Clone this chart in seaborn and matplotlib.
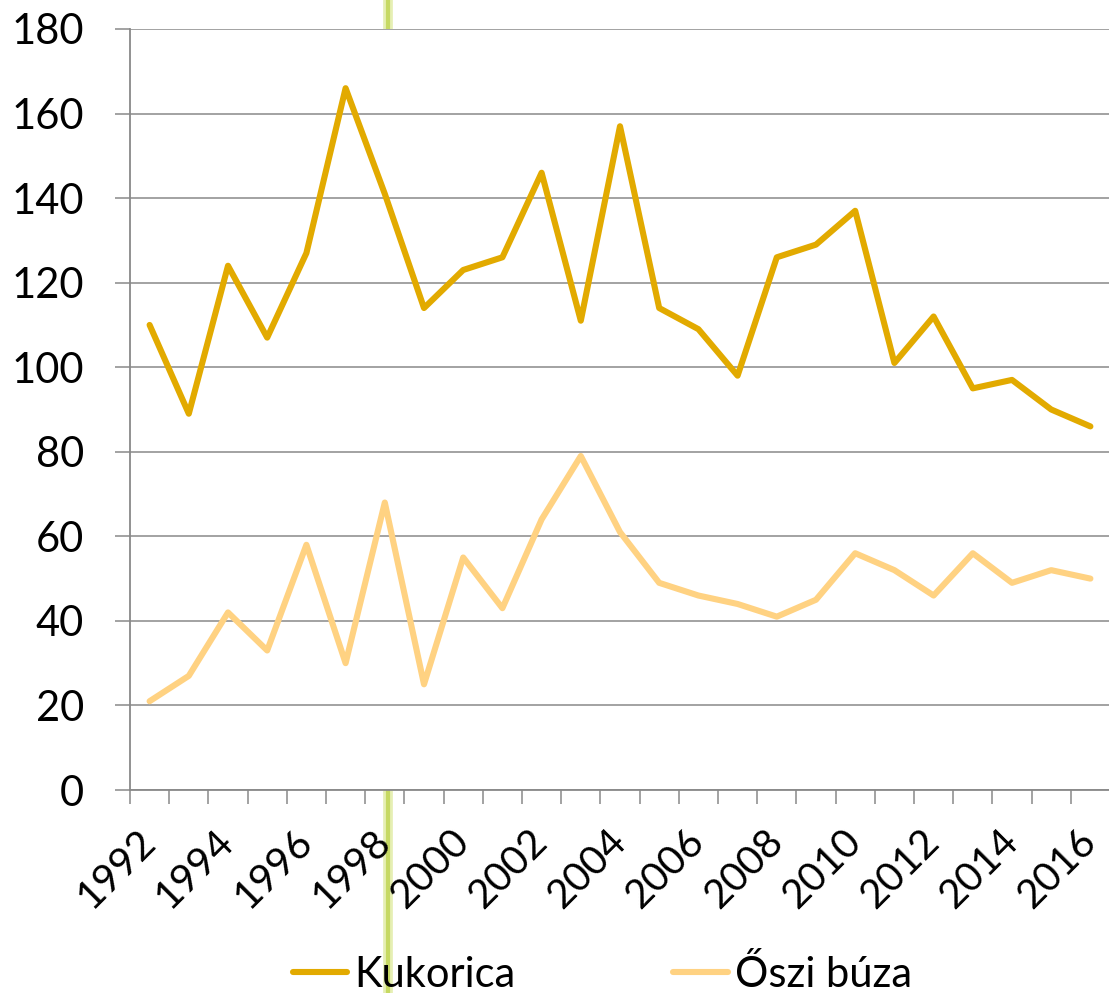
import matplotlib
matplotlib.use("Agg")
import matplotlib.pyplot as plt
from matplotlib.lines import Line2D
import pandas as pd
import seaborn as sns

years = list(range(1992, 2017))
kukorica = [110, 89, 124, 107, 127, 166, 141, 114, 123, 126, 146, 111, 157,
            114, 109, 98, 126, 129, 137, 101, 112, 95, 97, 90, 86]
oszi_buza = [21, 27, 42, 33, 58, 30, 68, 25, 55, 43, 64, 79, 61,
             49, 46, 44, 41, 45, 56, 52, 46, 56, 49, 52, 50]
series_names = ["Kukorica", "Őszi búza"]
series_colors = ["#E2AA00", "#FFD282"]
y_ticks = list(range(0, 181, 20))

df = pd.concat([
    pd.DataFrame({"year": years, "value": kukorica, "series": series_names[0]}),
    pd.DataFrame({"year": years, "value": oszi_buza, "series": series_names[1]}),
])

sns.set_theme(style="white")
plt.rcParams["font.family"] = ["Lato", "DejaVu Sans"]

fig = plt.figure(figsize=(11.09, 9.93), dpi=100)

# stray highlight line from the source slide, sits behind the plot area
for lw, col in [(7, "#e6efb4"), (3, "#c6d962")]:
    fig.add_artist(Line2D([388 / 1109, 388 / 1109], [0, 1], transform=fig.transFigure,
                          color=col, lw=lw, zorder=-5))

ax = fig.add_axes([130 / 1109, 203 / 993, 980 / 1109, 761 / 993])
ax.set_facecolor("white")

sns.lineplot(data=df, x="year", y="value", hue="series", palette=series_colors,
             linewidth=4.4, ax=ax, legend=False)

grey = "#898989"
ax.set_xlim(1991.5, 2016.5)
ax.set_ylim(0, 180)
ax.set_yticks(y_ticks)
ax.yaxis.grid(True, color=grey, lw=1.1)
ax.set_axisbelow(True)
ax.tick_params(axis="y", which="major", length=11, width=1.1, color=grey,
               labelsize=30, pad=22, left=True, labelcolor="black")

ax.set_xticks(years[::2])
ax.set_xticklabels([str(y) for y in years[::2]], rotation=45, ha="right",
                   va="center", rotation_mode="anchor")
ax.set_xticks([y - 0.5 for y in years] + [years[-1] + 0.5], minor=True)
ax.tick_params(axis="x", which="major", length=0, labelsize=29, pad=33,
               labelcolor="black")
ax.tick_params(axis="x", which="minor", length=10, width=1.1, color=grey, bottom=True)

for side in ["top", "right"]:
    ax.spines[side].set_visible(False)
for side in ["left", "bottom"]:
    ax.spines[side].set_color(grey)
    ax.spines[side].set_linewidth(1.3)

ax.set_xlabel("")
ax.set_ylabel("")

handles = [Line2D([], [], color=c, lw=4.4, solid_capstyle="round") for c in series_colors]
leg = fig.legend(handles, series_names, loc="center", bbox_to_anchor=(0.543, 0.019),
                 ncol=2, frameon=False, fontsize=30, handlelength=1.3,
                 handletextpad=0.17, columnspacing=3.8)
for t in leg.get_texts():
    t.set_color("black")

fig.savefig("out.png", dpi=100)
